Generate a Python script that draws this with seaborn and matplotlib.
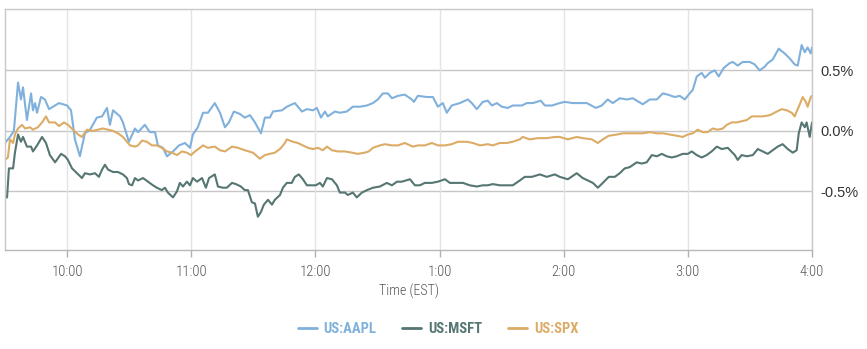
import matplotlib
matplotlib.use("Agg")
import matplotlib.pyplot as plt
from matplotlib import font_manager
import seaborn as sns
import pandas as pd
import os

# ---- data: minutes since 9:30 EST, % change ----
aapl_t = [0, 2.4, 4.3, 6.3, 7.7, 8.7, 10.6, 12.6, 13.5, 14.5, 15.5, 17.4, 19.3, 21.3, 23.2, 26.1, 30.0, 31.9,
          33.8, 36.2, 38.6, 41.1, 44.4, 46.9, 49.3, 50.7, 52.2, 55.6, 57.0, 59.9, 62.8, 64.3, 67.6, 70.0, 72.5,
          73.9, 76.3, 78.3, 81.2, 84.1, 87.0, 89.4, 90.8, 93.2, 95.7, 98.1, 101.4, 103.9, 106.3, 108.2, 110.6,
          113.5, 115.9, 118.4, 120.8, 123.7, 125.6, 128.0, 129.5, 133.8, 136.2, 140.1, 143.5, 145.9, 148.8,
          150.7, 152.7, 154.6, 156.0, 159.4, 161.8, 165.2, 168.1, 171.5, 174.9, 177.8, 180.2, 182.6, 185.0,
          187.0, 189.9, 193.2, 196.6, 197.6, 199.5, 203.9, 206.8, 209.2, 211.6, 213.5, 215.9, 219.8, 223.7,
          225.6, 228.0, 230.9, 233.3, 235.3, 237.7, 240.1, 243.0, 245.4, 249.8, 252.2, 255.1, 258.9, 260.9,
          264.3, 268.1, 270.5, 274.4, 277.8, 281.2, 285.5, 288.4, 291.3, 293.7, 297.1, 300.5, 303.4, 305.3,
          308.2, 311.6, 315.0, 317.9, 320.3, 323.7, 326.1, 328.5, 330.4, 332.4, 334.3, 336.7, 338.2, 340.6,
          343.0, 344.9, 347.3, 350.2, 351.7, 354.1, 356.5, 359.9, 362.3, 364.7, 367.1, 368.6, 371.0, 373.9,
          376.8, 379.2, 381.6, 383.1, 385.0, 386.5, 387.9, 389.4, 390.0]
aapl_v = [-0.10, -0.05, 0.00, 0.40, 0.26, 0.36, 0.09, 0.31, 0.17, 0.23, 0.15, 0.28, 0.26, 0.18, 0.20, 0.23, 0.21,
          0.17, -0.07, -0.21, -0.02, 0.01, 0.11, 0.12, 0.19, 0.05, 0.17, 0.12, 0.07, -0.09, 0.02, -0.01, 0.05,
          -0.01, -0.01, -0.12, -0.14, -0.21, -0.17, -0.12, -0.10, -0.14, -0.03, 0.03, 0.15, 0.15, 0.23, 0.15,
          0.03, 0.07, 0.16, 0.14, 0.11, 0.13, 0.07, -0.02, 0.11, 0.11, 0.16, 0.17, 0.20, 0.23, 0.16, 0.18, 0.17,
          0.19, 0.11, 0.16, 0.12, 0.16, 0.15, 0.16, 0.20, 0.20, 0.21, 0.23, 0.26, 0.31, 0.31, 0.27, 0.29, 0.30,
          0.26, 0.24, 0.29, 0.28, 0.28, 0.20, 0.23, 0.15, 0.21, 0.23, 0.26, 0.23, 0.18, 0.24, 0.25, 0.21, 0.23,
          0.20, 0.19, 0.21, 0.21, 0.23, 0.23, 0.25, 0.21, 0.21, 0.23, 0.24, 0.23, 0.23, 0.23, 0.19, 0.21, 0.26,
          0.23, 0.27, 0.26, 0.27, 0.25, 0.22, 0.26, 0.26, 0.31, 0.30, 0.28, 0.29, 0.26, 0.30, 0.34, 0.45, 0.48,
          0.44, 0.48, 0.50, 0.45, 0.52, 0.56, 0.57, 0.54, 0.57, 0.57, 0.55, 0.50, 0.53, 0.56, 0.59, 0.68, 0.64,
          0.60, 0.55, 0.54, 0.71, 0.65, 0.69, 0.64, 0.69]

msft_t = [0, 1.0, 1.9, 3.9, 4.8, 6.3, 7.7, 8.7, 10.6, 12.6, 13.5, 15.5, 17.9, 19.8, 21.7, 24.2, 27.1, 29.0, 30.4,
          32.4, 34.8, 37.2, 38.6, 41.1, 43.5, 45.4, 46.9, 48.3, 49.8, 52.2, 54.6, 57.0, 58.9, 59.9, 61.4, 62.8,
          64.3, 66.7, 69.1, 71.5, 73.4, 75.8, 77.3, 78.7, 81.2, 83.1, 84.5, 86.0, 87.9, 89.4, 90.8, 92.8, 95.2,
          97.1, 98.6, 101.4, 102.9, 105.3, 107.2, 109.7, 111.6, 114.0, 115.9, 117.4, 119.3, 120.8, 122.2, 123.7,
          125.1, 127.1, 129.0, 130.4, 132.9, 134.3, 136.2, 138.6, 140.1, 142.0, 144.0, 145.9, 148.3, 150.2,
          152.2, 153.6, 155.6, 158.0, 160.4, 161.8, 164.3, 165.7, 168.1, 170.0, 172.5, 174.9, 177.8, 181.2,
          184.5, 187.0, 189.4, 191.8, 195.7, 198.1, 200.5, 202.9, 206.3, 209.2, 212.6, 215.0, 218.4, 221.3,
          224.6, 228.0, 230.9, 233.3, 235.7, 239.1, 242.5, 245.4, 248.8, 251.2, 254.6, 258.5, 261.8, 265.7,
          268.1, 272.0, 276.3, 279.2, 284.1, 286.5, 288.9, 291.8, 294.7, 297.1, 299.5, 301.9, 305.3, 307.7,
          310.1, 312.6, 315.0, 317.4, 319.8, 322.2, 324.6, 327.5, 330.0, 331.9, 334.3, 336.7, 339.1, 341.5,
          344.0, 346.4, 349.3, 352.7, 354.1, 356.0, 358.5, 361.4, 363.8, 366.2, 368.6, 371.0, 373.4, 375.8,
          378.3, 380.7, 382.6, 383.6, 385.0, 386.5, 387.4, 388.9, 390.0]
msft_v = [-0.55, -0.55, -0.31, -0.31, -0.18, -0.03, -0.09, -0.05, -0.13, -0.13, -0.17, -0.12, -0.05, -0.10, -0.20,
          -0.26, -0.19, -0.21, -0.24, -0.31, -0.35, -0.39, -0.35, -0.36, -0.35, -0.38, -0.32, -0.28, -0.32, -0.34,
          -0.34, -0.36, -0.39, -0.44, -0.45, -0.39, -0.41, -0.39, -0.42, -0.45, -0.47, -0.49, -0.47, -0.51, -0.55,
          -0.50, -0.43, -0.46, -0.42, -0.45, -0.39, -0.42, -0.39, -0.47, -0.39, -0.36, -0.46, -0.47, -0.47, -0.43,
          -0.44, -0.46, -0.49, -0.49, -0.59, -0.60, -0.71, -0.67, -0.61, -0.57, -0.61, -0.57, -0.53, -0.47, -0.43,
          -0.43, -0.38, -0.36, -0.40, -0.45, -0.45, -0.45, -0.43, -0.46, -0.39, -0.40, -0.45, -0.51, -0.51, -0.53,
          -0.51, -0.55, -0.51, -0.49, -0.47, -0.46, -0.43, -0.45, -0.42, -0.42, -0.40, -0.45, -0.45, -0.43, -0.43,
          -0.42, -0.40, -0.43, -0.43, -0.43, -0.45, -0.46, -0.45, -0.45, -0.44, -0.45, -0.45, -0.45, -0.41, -0.38,
          -0.38, -0.36, -0.38, -0.36, -0.38, -0.40, -0.35, -0.39, -0.43, -0.47, -0.43, -0.38, -0.38, -0.35, -0.31,
          -0.30, -0.26, -0.27, -0.26, -0.20, -0.21, -0.19, -0.21, -0.22, -0.21, -0.19, -0.19, -0.17, -0.20, -0.22,
          -0.20, -0.17, -0.13, -0.15, -0.14, -0.20, -0.24, -0.20, -0.21, -0.20, -0.15, -0.17, -0.19, -0.16, -0.13,
          -0.11, -0.15, -0.18, -0.16, -0.02, 0.07, 0.03, 0.07, -0.05, 0.07]

spx_t = [0, 1.4, 2.4, 3.9, 4.8, 6.3, 8.2, 9.7, 12.1, 13.5, 15.9, 17.9, 19.8, 21.3, 24.2, 26.1, 28.5, 30.4, 32.9,
         35.3, 37.2, 39.6, 42.5, 44.9, 47.3, 49.8, 52.2, 54.6, 57.0, 59.4, 60.4, 62.8, 64.3, 66.2, 68.6, 71.0,
         73.4, 75.8, 78.3, 80.7, 83.1, 85.5, 87.9, 89.9, 91.8, 94.2, 95.7, 98.1, 101.4, 103.9, 106.3, 109.7,
         112.6, 115.9, 119.8, 123.2, 125.6, 128.0, 130.4, 132.9, 135.3, 136.2, 139.1, 141.5, 144.0, 146.4, 148.8,
         151.2, 153.6, 155.6, 158.0, 160.9, 164.3, 167.6, 170.5, 173.9, 175.8, 177.8, 181.2, 183.6, 187.0, 189.9,
         193.2, 197.1, 199.5, 202.9, 206.3, 209.2, 212.6, 215.9, 218.8, 223.2, 226.1, 229.5, 233.3, 235.7, 239.1,
         242.5, 245.4, 248.8, 250.2, 253.6, 257.5, 261.8, 265.7, 268.1, 272.0, 276.3, 279.2, 283.6, 286.5, 288.9,
         291.8, 295.7, 298.6, 301.9, 305.3, 308.2, 311.6, 315.0, 317.9, 321.3, 324.6, 327.5, 330.0, 332.4, 334.8,
         337.2, 339.6, 342.0, 344.4, 346.9, 348.8, 351.2, 353.6, 356.0, 358.5, 360.9, 363.8, 366.2, 369.6, 373.0,
         375.4, 377.8, 380.2, 381.6, 382.6, 384.1, 385.5, 387.0, 387.9, 389.4, 390.0]
spx_v = [-0.24, -0.22, -0.07, -0.10, -0.03, 0.02, 0.05, 0.02, 0.03, 0.01, 0.03, 0.07, 0.12, 0.07, 0.07, 0.04, 0.07,
         0.05, 0.01, -0.03, -0.05, 0.01, 0.00, 0.01, 0.02, 0.01, 0.00, -0.02, -0.05, -0.10, -0.12, -0.13, -0.12,
         -0.08, -0.09, -0.12, -0.12, -0.14, -0.17, -0.18, -0.20, -0.17, -0.18, -0.20, -0.17, -0.14, -0.12, -0.14,
         -0.13, -0.16, -0.17, -0.13, -0.14, -0.16, -0.18, -0.23, -0.20, -0.19, -0.18, -0.15, -0.10, -0.07, -0.09,
         -0.10, -0.12, -0.14, -0.15, -0.14, -0.16, -0.13, -0.16, -0.17, -0.17, -0.18, -0.19, -0.18, -0.17, -0.14,
         -0.12, -0.11, -0.12, -0.12, -0.10, -0.13, -0.12, -0.12, -0.10, -0.12, -0.12, -0.11, -0.09, -0.09, -0.10,
         -0.12, -0.11, -0.12, -0.10, -0.10, -0.09, -0.07, -0.05, -0.07, -0.06, -0.06, -0.05, -0.05, -0.07, -0.05,
         -0.06, -0.07, -0.10, -0.07, -0.04, -0.03, -0.02, -0.02, -0.02, -0.02, -0.01, -0.02, -0.02, -0.03, -0.04,
         -0.05, -0.03, -0.02, 0.01, -0.01, -0.01, 0.02, 0.01, 0.02, 0.05, 0.07, 0.07, 0.08, 0.09, 0.12, 0.12, 0.12,
         0.13, 0.16, 0.18, 0.17, 0.15, 0.12, 0.16, 0.22, 0.28, 0.24, 0.20, 0.28, 0.29]

series_names = ["US:AAPL", "US:MSFT", "US:SPX"]
series_colors = ["#80b1dc", "#557672", "#dcac66"]
tick_minutes = [30, 90, 150, 210, 270, 330, 390]
tick_labels = ["10:00", "11:00", "12:00", "1:00", "2:00", "3:00", "4:00"]
y_ticks = [-0.5, 0.0, 0.5]
y_labels = ["-0.5%", "0.0%", "0.5%"]

df = pd.concat([
    pd.DataFrame({"t": aapl_t, "v": aapl_v, "s": series_names[0]}),
    pd.DataFrame({"t": msft_t, "v": msft_v, "s": series_names[1]}),
    pd.DataFrame({"t": spx_t, "v": spx_v, "s": series_names[2]}),
], ignore_index=True)

sns.set_theme(style="white")
plt.rcParams["font.family"] = ["Liberation Sans", "DejaVu Sans"]


def find_narrow(bold=False):
    files = set(font_manager.findSystemFonts()) | {f.fname for f in font_manager.fontManager.ttflist}
    prefs = ["LiberationSansNarrow", "RobotoCondensed", "OpenSansCondensed", "OpenSans_Condensed",
             "DejaVuSansCondensed"]
    for p in prefs:
        cands = [f for f in files if p.lower() in os.path.basename(f).lower().replace("-", "").replace(" ", "")]
        if not cands:
            continue
        def score(f):
            b = os.path.basename(f).lower()
            isbold = "bold" in b
            isital = "italic" in b or "oblique" in b
            return (isital, isbold != bold, len(b))
        cands.sort(key=score)
        return font_manager.FontProperties(fname=cands[0])
    return font_manager.FontProperties(family="DejaVu Sans", stretch="condensed",
                                       weight="bold" if bold else "normal")


narrow_fp = find_narrow(False)
narrow_bold_fp = find_narrow(True)

fig = plt.figure(figsize=(8.67, 3.49), dpi=100)
ax = fig.add_axes([5 / 867, 1 - 250 / 349, 807 / 867, 241 / 349])

sns.lineplot(data=df, x="t", y="v", hue="s", palette=dict(zip(series_names, series_colors)),
             hue_order=series_names, linewidth=1.5, ax=ax, legend=True, estimator=None, sort=False)

ax.set_xlim(0, 390)
ax.set_ylim(-0.985, 1.008)

for yt in y_ticks:
    ax.axhline(yt, color="#c6c6c6", linewidth=1.0, zorder=0)
for xt in tick_minutes:
    ax.axvline(xt, color="#e4e4e4", linewidth=1.0, zorder=0)

ax.set_xticks(tick_minutes)
ax.set_xticklabels(tick_labels, color="#555555")
for lab in ax.get_xticklabels():
    lab.set_fontproperties(narrow_fp)
    lab.set_fontsize(10.5)
ax.tick_params(axis="x", direction="out", length=5, width=1, color="#b0b0b0", pad=6, bottom=True)

ax.yaxis.tick_right()
ax.set_yticks(y_ticks)
ax.set_yticklabels(y_labels, fontsize=10.5, color="#333333")
ax.tick_params(axis="y", length=0, pad=6)

ax.set_xlabel("Time (EST)", color="#555555", labelpad=3)
ax.xaxis.label.set_fontproperties(narrow_fp)
ax.xaxis.label.set_fontsize(10)
ax.set_ylabel("")

for side in ["left", "top", "right"]:
    ax.spines[side].set_color("#c8c8c8")
    ax.spines[side].set_linewidth(1.0)
ax.spines["bottom"].set_color("#b8b8b8")
ax.spines["bottom"].set_linewidth(1.0)

leg_fp = narrow_bold_fp.copy()
leg_fp.set_size(10.5)
handles, labels = ax.get_legend_handles_labels()
leg = ax.legend(handles, labels, loc="center", bbox_to_anchor=(438 / 867, 1 - 329 / 349),
                bbox_transform=fig.transFigure, ncol=3, frameon=False, handlelength=1.3,
                handletextpad=0.45, columnspacing=1.8, labelcolor="linecolor", prop=leg_fp)
for line in leg.get_lines():
    line.set_linewidth(2)

fig.savefig("out.png", dpi=100, facecolor="white")
